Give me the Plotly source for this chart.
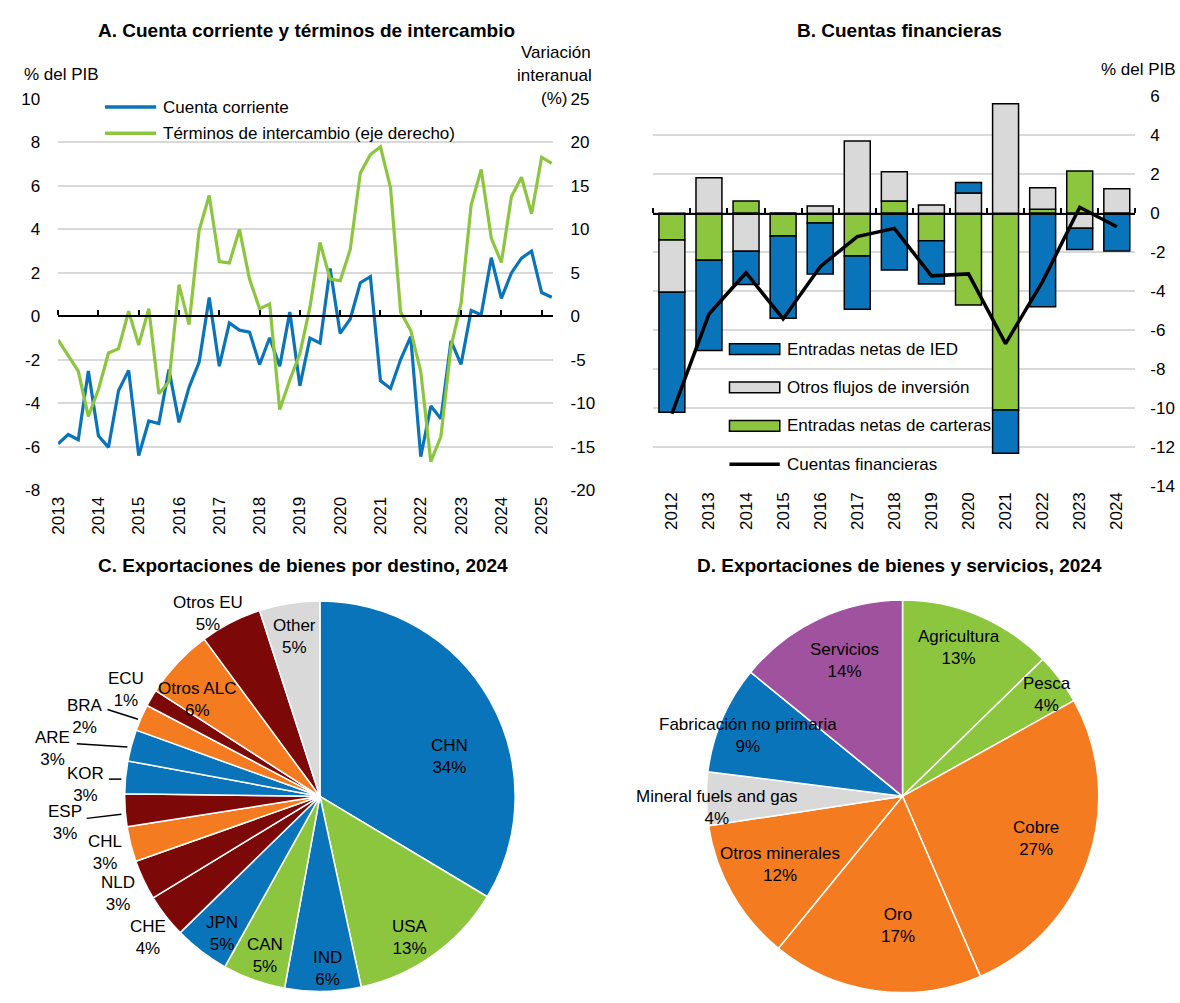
import plotly.graph_objects as go

# ---------------- DATA ----------------
# Panel A: quarterly 2013T1 .. 2025T2
quarters = [f"{y}T{q}" for y in range(2013, 2026) for q in range(1, 5)][:50]
year_ticks = [str(y) for y in range(2013, 2026)]
cuenta_corriente = [-5.86, -5.43, -5.67, -2.51, -5.49, -6.02, -3.41, -2.48, -6.4, -4.81,
                    -4.93, -2.44, -4.87, -3.26, -2.1, 0.87, -2.29, -0.3, -0.63, -0.72,
                    -2.21, -0.98, -2.29, 0.2, -3.19, -1.0, -1.23, 2.2, -0.78, -0.12,
                    1.55, 1.83, -2.96, -3.31, -1.98, -0.93, -6.45, -4.12, -4.7, -1.13,
                    -2.2, 0.27, 0.08, 2.7, 0.83, 2.0, 2.68, 3.0, 1.1, 0.88]
terminos_intercambio = [-2.7, -4.5, -6.3, -11.5, -8.4, -4.2, -3.7, 0.6, -3.3, 0.9,
                        -8.9, -7.5, 3.65, -0.95, 9.9, 13.9, 6.3, 6.15, 10.0, 4.3,
                        0.87, 1.44, -10.7, -7.3, -4.26, 1.06, 8.5, 4.3, 4.1, 7.7,
                        16.5, 18.6, 19.5, 14.8, 0.5, -1.6, -6.35, -16.7, -13.8, -3.5,
                        1.5, 12.8, 16.9, 9.0, 6.2, 13.8, 16.0, 11.8, 18.3, 17.6]
ticks_a_left = [-8, -6, -4, -2, 0, 2, 4, 6, 8, 10]
ticks_a_right = [-20, -15, -10, -5, 0, 5, 10, 15, 20, 25]

# Panel B: annual
years_b = ["2012", "2013", "2014", "2015", "2016", "2017", "2018", "2019", "2020",
           "2021", "2022", "2023", "2024"]
entradas_ied = [-6.17, -4.63, -1.72, -4.23, -2.63, -2.73, -2.92, -2.22, 0.55, -2.22, -4.81, -1.09, -1.94]
otros_flujos = [-2.68, 1.82, -1.95, 0.0, 0.37, 3.7, 1.5, 0.42, 1.03, 5.62, 1.1, -0.77, 1.25]
entradas_carteras = [-1.38, -2.42, 0.62, -1.17, -0.5, -2.2, 0.62, -1.42, -4.71, -10.11, 0.2, 2.16, 0.0]
cuentas_financieras = [-10.3, -5.18, -3.06, -5.43, -2.75, -1.2, -0.78, -3.22, -3.12, -6.7, -3.5, 0.3, -0.7]
ticks_b = [-14, -12, -10, -8, -6, -4, -2, 0, 2, 4, 6]

# Panel C
destinos = ["CHN", "USA", "IND", "CAN", "JPN", "CHE", "NLD", "CHL", "ESP", "KOR", "ARE",
            "BRA", "ECU", "Otros ALC", "Otros EU", "Other"]
valores_destino = [33.6, 13.0, 6.3, 5.2, 4.6, 3.6, 3.3, 2.9, 2.7, 2.7, 2.6, 2.2, 1.4, 5.8, 5.1, 5.0]

# Panel D
sectores = ["Agricultura", "Pesca", "Cobre", "Oro", "Otros minerales",
            "Mineral fuels and gas", "Fabricación no primaria", "Servicios"]
valores_sector = [12.7, 4.2, 26.6, 17.4, 11.7, 4.4, 8.9, 14.1]

# ---------------- STYLE ----------------
W, H = 1180, 1003
FONT = "Liberation Sans, Arial, sans-serif"
BLUE = "#0A74BA"
GREEN = "#8CC63F"
GRAY = "#D9D9D9"
DRED = "#7D0808"
ORANGE = "#F47B20"
PURPLE = "#A0529F"
GRID = "#D9D9D9"
FS = 17


def X(p):
    return p / W


def Y(p):
    return 1 - p / H


fig = go.Figure()

# ---------------- PANEL A ----------------
fig.add_trace(go.Scatter(x=quarters, y=cuenta_corriente, mode="lines",
                         line=dict(color=BLUE, width=3.2), xaxis="x", yaxis="y",
                         showlegend=False))
fig.add_trace(go.Scatter(x=quarters, y=terminos_intercambio, mode="lines",
                         line=dict(color=GREEN, width=3.2), xaxis="x", yaxis="y2",
                         showlegend=False))
fig.add_trace(go.Scatter(x=[None], y=[None], xaxis="x3", yaxis="y", showlegend=False,
                         hoverinfo="skip"))

a_ticks = [quarters[i] for i in range(0, len(quarters), 4)]

# ---------------- PANEL B ----------------
bar_series = [
    ("Entradas netas de carteras", entradas_carteras, GREEN),
    ("Otros flujos de inversión", otros_flujos, GRAY),
    ("Entradas netas de IED", entradas_ied, BLUE),
]
for name, vals, col in bar_series:
    fig.add_trace(go.Bar(x=years_b, y=vals, name=name, marker=dict(color=col, line=dict(color="black", width=1.5)),
                         width=0.7, xaxis="x2", yaxis="y3", showlegend=False))
fig.add_trace(go.Scatter(x=years_b, y=cuentas_financieras, mode="lines", name="Cuentas financieras",
                         line=dict(color="black", width=3.5), xaxis="x2", yaxis="y3", showlegend=False))
fig.add_trace(go.Scatter(x=[None], y=[None], xaxis="x4", yaxis="y3", showlegend=False,
                         hoverinfo="skip"))

# ---------------- PIES ----------------
colors_c = [BLUE, GREEN, BLUE, GREEN, BLUE, DRED, DRED, ORANGE, DRED, BLUE, BLUE,
            ORANGE, DRED, ORANGE, DRED, GRAY]
cC, RC = (313.3, 802.5), 199
fig.add_trace(go.Pie(labels=destinos, values=valores_destino, sort=False, direction="clockwise",
                     rotation=0, textinfo="none", hoverinfo="label+percent",
                     marker=dict(colors=colors_c, line=dict(color="white", width=1.5)),
                     domain=dict(x=[X(cC[0] - RC), X(cC[0] + RC)], y=[Y(cC[1] + RC), Y(cC[1] - RC)]),
                     showlegend=False))

colors_d = [GREEN, GREEN, ORANGE, ORANGE, ORANGE, GRAY, BLUE, PURPLE]
cD, RD = (900.4, 802.5), 200
fig.add_trace(go.Pie(labels=sectores, values=valores_sector, sort=False, direction="clockwise",
                     rotation=0, textinfo="none", hoverinfo="label+percent",
                     marker=dict(colors=colors_d, line=dict(color="white", width=1.5)),
                     domain=dict(x=[X(cD[0] - RD), X(cD[0] + RD)], y=[Y(cD[1] + RD), Y(cD[1] - RD)]),
                     showlegend=False))

# ---------------- LAYOUT ----------------
tickfont = dict(family=FONT, size=FS, color="black")
layout = dict(
    width=W, height=H, margin=dict(l=0, r=0, t=0, b=0), autosize=False,
    paper_bgcolor="white", plot_bgcolor="rgba(0,0,0,0)",
    font=dict(family=FONT, size=FS, color="black"),
    barmode="relative", hovermode=False,
    xaxis=dict(domain=[X(49.5), X(547.7)], anchor="y", type="category", range=[0, 49.08],
               tickmode="array", tickvals=a_ticks, ticktext=year_ticks, tickangle=-90,
               ticks="", showgrid=False, zeroline=False, showline=False, tickfont=tickfont,
               ticklabelstandoff=2),
    yaxis=dict(domain=[Y(490.7), Y(91.7)], anchor="x", range=[-8, 10],
               tickmode="array", tickvals=ticks_a_left, ticktext=[str(v) for v in ticks_a_left],
               showgrid=True, gridcolor=GRID, gridwidth=2, zeroline=False, showline=False,
               ticks="", tickfont=tickfont, ticklabelstandoff=17),
    yaxis2=dict(overlaying="y", side="right", anchor="x", range=[-20, 25],
                tickmode="array", tickvals=ticks_a_right, ticktext=[str(v) for v in ticks_a_right],
                showgrid=False, zeroline=False, showline=False, ticks="", tickfont=tickfont,
                ticklabelstandoff=17),
    xaxis3=dict(overlaying="x", anchor="free", position=Y(313.4), side="top", type="linear",
                range=[0, 49.08], tickmode="array", tickvals=list(range(0, 49, 4)),
                ticks="outside", ticklen=5, tickwidth=1.5, tickcolor="black",
                showline=True, linecolor="black", linewidth=2, showticklabels=False,
                showgrid=False, zeroline=False),
    xaxis2=dict(domain=[X(649.3), X(1135)], anchor="y3", type="category", range=[-0.5, 12.5],
                tickangle=-90, ticks="", showgrid=False, zeroline=False, showline=False,
                tickfont=tickfont, ticklabelstandoff=2),
    yaxis3=dict(domain=[Y(486), Y(89)], anchor="x2", side="right", range=[-14, 6],
                tickmode="array", tickvals=ticks_b, ticktext=[str(v) for v in ticks_b],
                showgrid=True, gridcolor=GRID, gridwidth=2, zeroline=False, showline=False,
                ticks="", tickfont=tickfont, ticklabelstandoff=14),
    xaxis4=dict(overlaying="x2", anchor="free", position=Y(208.8), side="top", type="linear",
                range=[-0.5, 12.5], tickmode="array", tickvals=[i - 0.5 for i in range(len(years_b) + 1)],
                ticks="outside", ticklen=5, tickwidth=1.5, tickcolor="black",
                showline=True, linecolor="black", linewidth=2, showticklabels=False,
                showgrid=False, zeroline=False),
)
fig.update_layout(**layout)

ann = []
shapes = []


def txt(x, y, t, xanchor="center", size=FS, bold=False):
    ann.append(dict(x=X(x), y=Y(y), xref="paper", yref="paper", text=(f"<b>{t}</b>" if bold else t),
                    showarrow=False, xanchor=xanchor, yanchor="middle", align=xanchor if xanchor != "center" else "center",
                    font=dict(family=FONT, size=size, color="black")))


# Titles
txt(300, 22, "A. Cuenta corriente y términos de intercambio", size=19, bold=True)
txt(897, 22, "B. Cuentas financieras", size=19, bold=True)
txt(296, 567, "C. Exportaciones de bienes por destino, 2024", size=19, bold=True)
txt(897, 567, "D. Exportaciones de bienes y servicios, 2024", size=19, bold=True)

# Axis titles
txt(12.7, 67, "% del PIB", xanchor="left")
txt(588, 44, "Variación", xanchor="right")
txt(589, 67.7, "interanual", xanchor="right")
txt(564, 91.7, "(%)", xanchor="right")
txt(1098, 61.7, "% del PIB", xanchor="left")

# Legend A
for yy, col, name in [(100, BLUE, "Cuenta corriente"),
                      (126.7, GREEN, "Términos de intercambio (eje derecho)")]:
    shapes.append(dict(type="line", xref="paper", yref="paper", x0=X(96.7), x1=X(148.3), y0=Y(yy), y1=Y(yy),
                       line=dict(color=col, width=3.5)))
    txt(153.3, yy, name, xanchor="left")

# Legend B
for yy, col, name in [(346.7, BLUE, "Entradas netas de IED"),
                      (385.7, GRAY, "Otros flujos de inversión"),
                      (425, GREEN, "Entradas netas de carteras")]:
    shapes.append(dict(type="rect", xref="paper", yref="paper", x0=X(726), x1=X(776.7),
                       y0=Y(yy + 5.5), y1=Y(yy - 5.5), fillcolor=col, line=dict(color="black", width=1.5)))
    txt(782.3, yy, name, xanchor="left")
shapes.append(dict(type="line", xref="paper", yref="paper", x0=X(726), x1=X(776.7), y0=Y(464), y1=Y(464),
                   line=dict(color="black", width=3.5)))
txt(782.3, 464, "Cuentas financieras", xanchor="left")

# Pie C labels
pos_c = [(444, 762), (404, 946.5), (321, 978.3), (258, 965), (214.3, 942), (140.5, 946.7),
         (109.5, 901.7), (96.7, 859.5), (56.5, 829), (77.5, 790), (44, 754), (76.5, 721),
         (118, 693.5), (189, 703.5), (201, 616.3), (288, 639.7)]
tot_c = sum(valores_destino)
for (px, py), lab, v in zip(pos_c, destinos, valores_destino):
    txt(px, py, f"{lab}<br>{round(v / tot_c * 100)}%")

for (x0, y0, x1, y1) in [(99.3, 714, 130, 724), (68.3, 749, 119.3, 752.3),
                         (100.7, 785, 113.3, 785), (78.3, 825, 113.3, 820.7)]:
    shapes.append(dict(type="line", xref="paper", yref="paper", x0=X(x0), y0=Y(y0), x1=X(x1), y1=Y(y1),
                       line=dict(color="black", width=1.5)))

# Pie D labels
pos_d = [(957, 651), (1045.8, 699), (1034.7, 846), (896, 934.7), (776.5, 872.3),
         (713, 813.7), (744.5, 740.8), (842.3, 663.7)]
tot_d = sum(valores_sector)
for (px, py), lab, v in zip(pos_d, sectores, valores_sector):
    txt(px, py, f"{lab}<br>{round(v / tot_d * 100)}%")

fig.update_layout(annotations=ann, shapes=shapes)
fig.write_html("out.html",
               config={"displayModeBar": False},
               post_script="document.body.style.margin='0';document.body.style.padding='0';"
                           "document.body.style.overflow='hidden';"
                           "document.documentElement.style.overflow='hidden';")
